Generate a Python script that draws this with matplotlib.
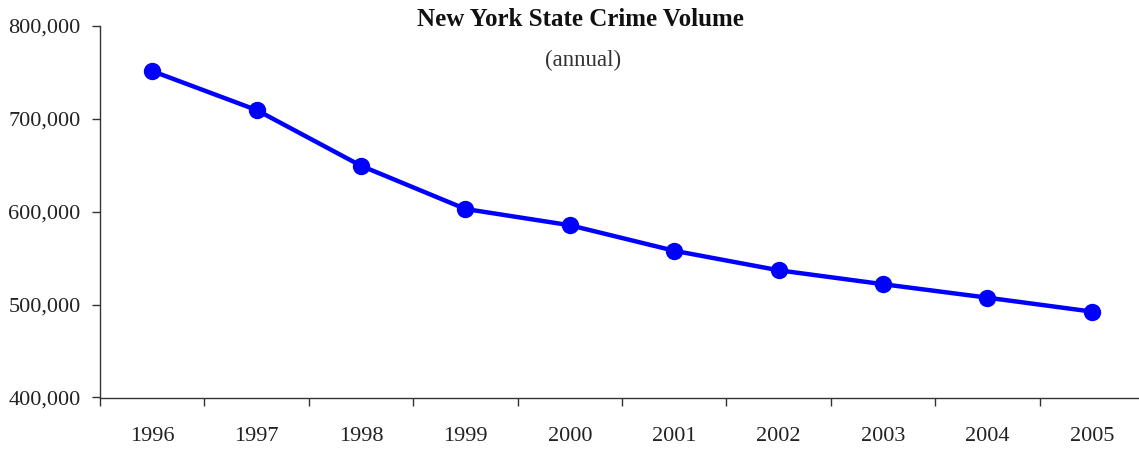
import matplotlib
matplotlib.use("Agg")
import matplotlib.pyplot as plt
from matplotlib.ticker import FuncFormatter, FixedLocator
import numpy as np

years = ["1996", "1997", "1998", "1999", "2000", "2001", "2002", "2003", "2004", "2005"]
crime_volume = [751500, 709500, 649500, 603000, 585500, 558000, 537000, 522000, 507500, 492500]
y_ticks = [400000, 500000, 600000, 700000, 800000]

plt.rcParams['font.family'] = ['Liberation Serif', 'DejaVu Serif']

fig = plt.figure(figsize=(11.39, 4.5), dpi=100)
ax = fig.add_axes([100/1139, (450-397.5)/450, (1144-100)/1139, (397.5-26)/450])

x = np.arange(len(years))
ax.plot(x, crime_volume, color='#0000FF', linewidth=3.2, marker='o', markersize=11.5,
        solid_joinstyle='round', clip_on=False, zorder=3)

ax.set_xlim(-0.5, len(years) - 0.5)
ax.set_ylim(400000, 800000)
ax.set_yticks(y_ticks)
ax.yaxis.set_major_formatter(FuncFormatter(lambda v, p: f"{int(v):,}"))

ax.set_xticks(x)
ax.set_xticklabels(years)
ax.xaxis.set_minor_locator(FixedLocator(np.arange(-0.5, len(years), 1.0)))
ax.tick_params(axis='x', which='major', length=0, pad=21, labelsize=16, labelcolor='#222222')
ax.tick_params(axis='x', which='minor', length=6, width=1, direction='out', color='#333333')
ax.tick_params(axis='y', which='major', length=6, width=1, direction='out', pad=8,
               labelsize=16, labelcolor='#222222', color='#333333')

for s in ['top', 'right']:
    ax.spines[s].set_visible(False)
for s in ['left', 'bottom']:
    ax.spines[s].set_color('#333333')
    ax.spines[s].set_linewidth(1.0)

fig.text(580/1139, 1 - 20/450, "New York State Crime Volume", ha='center', va='center',
         fontsize=18, fontweight='bold', color='#111111')
fig.text(583/1139, 1 - 60/450, "(annual)", ha='center', va='center',
         fontsize=16.5, color='#333333')

fig.savefig("out.png", dpi=100)
